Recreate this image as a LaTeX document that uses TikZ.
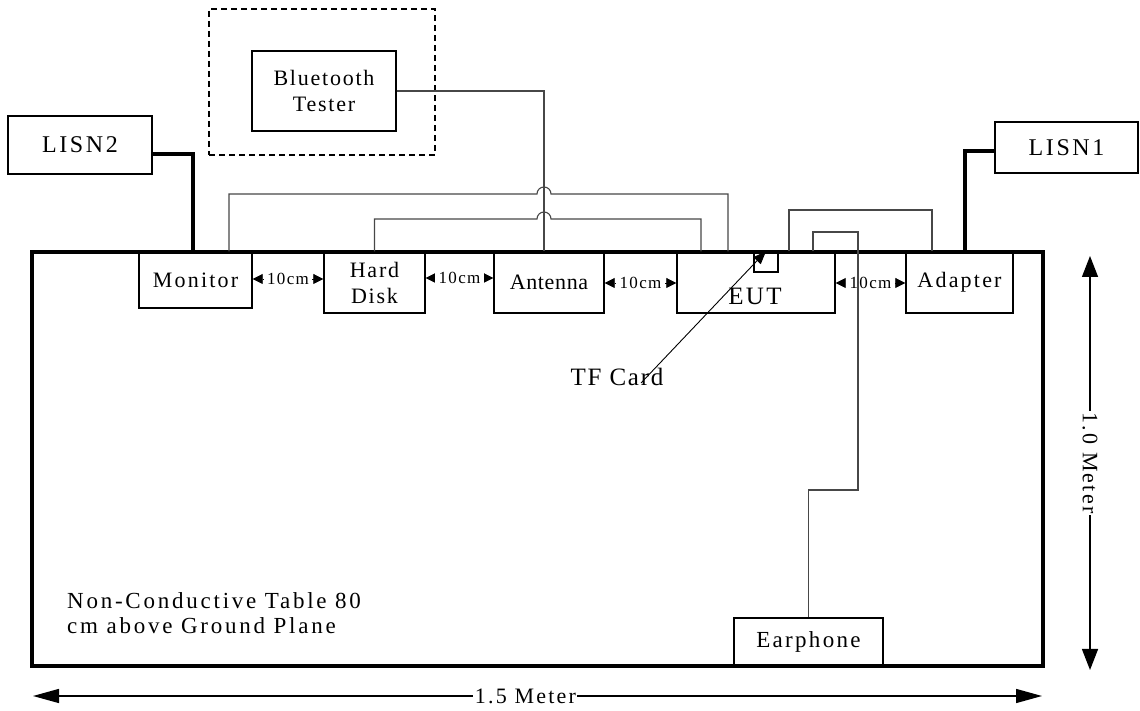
\documentclass[tikz,border=0pt]{standalone}
\usepackage{fontspec}
\setmainfont{Liberation Serif}
\usetikzlibrary{arrows.meta}
\newcommand{\lsp}[1]{\addfontfeatures{LetterSpace=#1}}
\begin{document}
\begin{tikzpicture}[x=1pt,y=1pt,
  box/.style={draw, line width=1.4pt, inner sep=0pt, align=center, font=\fontsize{22}{26}\selectfont\lsp{8}},
  cable/.style={draw=black!72, line width=1.1pt},
  power/.style={draw=black, line width=3.2pt},
  gap/.style={line width=0.8pt, {Triangle[length=10pt,width=10pt]}-{Triangle[length=10pt,width=10pt]}},
  gaplbl/.style={fill=white, inner xsep=3.5pt, inner ysep=1pt, font=\fontsize{17}{20}\selectfont\lsp{8}},
  dim/.style={line width=1.4pt},
  dimlbl/.style={fill=white, inner sep=1.5pt, font=\fontsize{22}{26}\selectfont\lsp{10}}
]
\useasboundingbox (0,0) rectangle (1140,711);

% table
\node[draw, line width=3.2pt, minimum width=1011, minimum height=414, inner sep=0pt] (table) at (537.5,252) {};

% devices
\node[box, minimum width=144, minimum height=58, font=\fontsize{24}{28}\selectfont\lsp{11}] (lisn2) at (80,566) {LISN2};
\node[box, minimum width=143, minimum height=51, font=\fontsize{24}{28}\selectfont\lsp{11}] (lisn1) at (1066.5,563.5) {LISN1};
\node[draw, dash pattern=on 6pt off 4pt, line width=2pt, minimum width=226, minimum height=146, inner sep=0pt] (shield) at (322,629) {};
\node[box, minimum width=144, minimum height=80] (bt) at (324,620) {Bluetooth\\Tester};
\node[box, minimum width=113, minimum height=56, font=\fontsize{22}{26}\selectfont\lsp{10}] (monitor) at (195.5,431) {Monitor};
\node[box, minimum width=101, minimum height=61] (hd) at (374.5,428.5) {Hard\\Disk};
\node[box, minimum width=110, minimum height=61, font=\fontsize{22}{26}\selectfont\lsp{3}] (antenna) at (549,428.5) {Antenna};
\node[box, minimum width=158, minimum height=61] (eut) at (756,428.5) {};
\node[font=\fontsize{25}{28}\selectfont\lsp{9}, inner sep=0pt] (eutlbl) at (755,414.5) {EUT};
\node[box, minimum width=24, minimum height=20] (tf) at (766,449) {};
\node[box, minimum width=107, minimum height=61, font=\fontsize{22}{26}\selectfont\lsp{10}] (adapter) at (959.5,428.5) {Adapter};
\node[box, minimum width=149, minimum height=48, font=\fontsize{23}{26}\selectfont\lsp{10}] (earphone) at (808.5,69) {Earphone};

% 10 cm spacings
\draw[gap] (monitor.east |- 0,432) -- (hd.west |- 0,432) node[midway, gaplbl] {10cm};
\draw[gap] (hd.east |- 0,433) -- (antenna.west |- 0,433) node[midway, gaplbl] {10cm};
\draw[gap] (antenna.east |- 0,428) -- (eut.west |- 0,428) node[midway, gaplbl] {10cm};
\draw[gap] (eut.east |- 0,428) -- (adapter.west |- 0,428) node[midway, gaplbl] {10cm};

% power lines
\draw[power] ([yshift=-9]lisn2.east) -| ([xshift=-2.5]monitor.north);
\draw[power] ([yshift=-3.5]lisn1.west) -| ([xshift=5.5]adapter.north);

% signal cables
\draw[cable] (bt.east) -| ([xshift=-5]antenna.north);
\draw[cable] ([xshift=33.5]monitor.north) |- (537,517) arc[start angle=180, end angle=0, radius=7] -- (728,517) -- ([xshift=-28]eut.north);
\draw[cable] (hd.north) |- (537,492) arc[start angle=180, end angle=0, radius=7] -- (701,492) -- ([xshift=-55]eut.north);
\draw[cable] ([xshift=33]eut.north) |- (932,501) -- ([xshift=-27.5]adapter.north);
\draw[cable] ([xshift=57]eut.north) |- (858,479) -- (858,221) -| (earphone.north);

% TF card pointer
\node[font=\fontsize{25}{28}\selectfont\lsp{7}, inner sep=0pt] (tflbl) at (617,334.5) {TF Card};
\coordinate (tftail) at (641,328);
\draw[line width=0.9pt, -{Triangle[length=13pt,width=10pt]}] (tftail) -- (tf.north);

% table label
\node[anchor=west, align=left, inner sep=0pt, font=\fontsize{23}{25}\selectfont\lsp{12}] (tablelbl) at (67,98) {Non-Conductive Table 80\\cm above Ground Plane};

% dimensions
\coordinate (hl) at (33,15);
\coordinate (hr) at (1042,15);
\draw[dim, {Triangle[length=26pt,width=14pt]}-{Triangle[length=26pt,width=14pt]}] (hl) -- (hr) node[pos=0.488, dimlbl] {1.5 Meter};
\coordinate (vt) at (1090,455);
\coordinate (vb) at (1090,41);
\draw[dim, {Triangle[length=21pt,width=16pt]}-{Triangle[length=21pt,width=16pt]}] (vt) -- (vb) node[midway, dimlbl, rotate=-90] {1.0 Meter};
\end{tikzpicture}
\end{document}
